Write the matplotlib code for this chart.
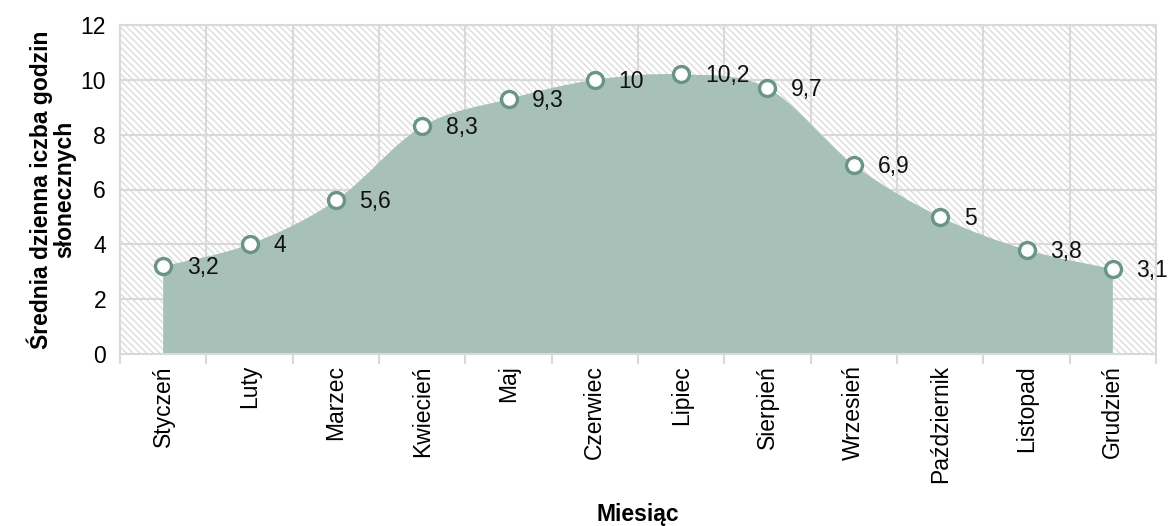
import numpy as np
import matplotlib
matplotlib.use('Agg')
import matplotlib.pyplot as plt
from matplotlib.path import Path
from matplotlib.patches import PathPatch, Rectangle

plt.rcParams['font.family'] = ['Liberation Sans', 'DejaVu Sans']
plt.rcParams['hatch.linewidth'] = 1.0

miesiace = ['Styczeń', 'Luty', 'Marzec', 'Kwiecień', 'Maj', 'Czerwiec',
            'Lipiec', 'Sierpień', 'Wrzesień', 'Październik', 'Listopad', 'Grudzień']
godziny = [3.2, 4, 5.6, 8.3, 9.3, 10, 10.2, 9.7, 6.9, 5, 3.8, 3.1]
etykiety = ['3,2', '4', '5,6', '8,3', '9,3', '10', '10,2', '9,7', '6,9', '5', '3,8', '3,1']

kolor_pola = '#a7c1b8'
kolor_brzegu = '#6a9486'
kolor_siatki = '#d9d9d9'

def smooth_path(xs, ys):
    # krzywa Beziera w stylu Excela (wygladzona linia)
    pts = np.column_stack([xs, ys]).astype(float)
    n = len(pts)
    verts = [tuple(pts[0])]
    codes = [Path.MOVETO]
    for i in range(n - 1):
        p0 = pts[i - 1] if i > 0 else pts[i]
        p1 = pts[i]
        p2 = pts[i + 1]
        p3 = pts[i + 2] if i + 2 < n else pts[i + 1]
        c1 = p1 + (p2 - p0) / 6.0
        c2 = p2 - (p3 - p1) / 6.0
        verts += [tuple(c1), tuple(c2), tuple(p2)]
        codes += [Path.CURVE4] * 3
    verts += [(xs[-1], 0), (xs[0], 0), (xs[0], ys[0])]
    codes += [Path.LINETO, Path.LINETO, Path.CLOSEPOLY]
    return Path(verts, codes)

fig = plt.figure(figsize=(11.69, 5.26), dpi=100)
ax = fig.add_axes([120 / 1169, 1 - 354 / 526, 1036 / 1169, 329 / 526])

x = np.arange(len(miesiace))
ax.set_xlim(-0.5, len(miesiace) - 0.5)
ax.set_ylim(0, 12)

# tlo w ukosne paski
ax.add_patch(Rectangle((0, 0), 1, 1, transform=ax.transAxes, facecolor='white',
                       edgecolor='#dcdcdc', linewidth=0, hatch='\\\\\\\\\\',
                       zorder=0))

for yv in range(2, 13, 2):
    ax.axhline(yv, color=kolor_siatki, lw=1.5, zorder=1)
for xv in np.arange(0.5, len(miesiace) - 0.5, 1):
    ax.axvline(xv, color=kolor_siatki, lw=1.5, zorder=1)

ax.add_patch(PathPatch(smooth_path(x, godziny), facecolor=kolor_pola,
                       edgecolor='none', zorder=2))

ax.plot(x, godziny, linestyle='none', marker='o', markersize=11.5,
        markerfacecolor='white', markeredgecolor=kolor_brzegu,
        markeredgewidth=2.4, zorder=4, clip_on=False)

for xi, yi, t in zip(x, godziny, etykiety):
    ax.annotate(t, (xi, yi), xytext=(17, -1), textcoords='offset points',
                ha='left', va='center', fontsize=16.5, color='#111111',
                zorder=5, annotation_clip=False)

for s in ax.spines.values():
    s.set_color(kolor_siatki)
    s.set_linewidth(1.5)

ax.set_yticks(range(0, 13, 2))
ax.set_xticks(x)
ax.set_xticklabels(miesiace, rotation=90, fontsize=16.5)
ax.set_xticks(np.arange(-0.5, len(miesiace), 1), minor=True)
ax.tick_params(axis='x', which='major', length=0, pad=8)
ax.tick_params(axis='x', which='minor', length=7, width=1.5, color=kolor_siatki)
ax.tick_params(axis='y', length=0, labelsize=16.5, pad=10)

ax.set_ylabel('Średnia dzienna iczba godzin\nsłonecznych', fontsize=16.5,
              fontweight='bold', labelpad=3, linespacing=1.05)
fig.text(638 / 1169, 1 - 515 / 526, 'Miesiąc', ha='center', va='center',
         fontsize=16.5, fontweight='bold')

fig.savefig('out.png', dpi=100)
